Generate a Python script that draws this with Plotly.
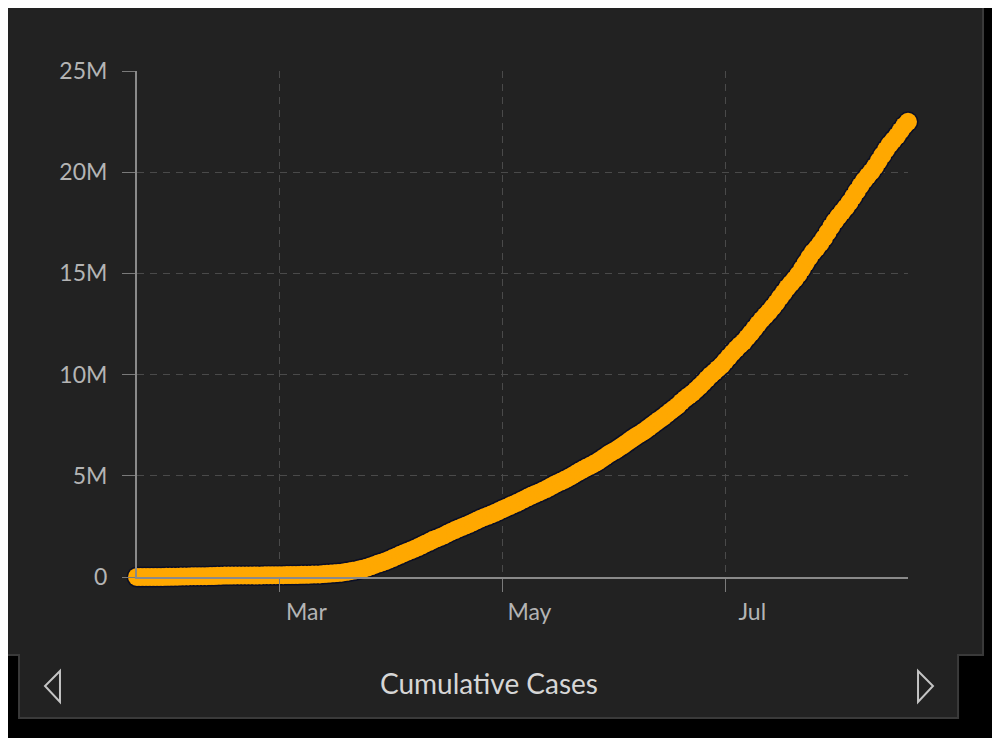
import pandas as pd
import plotly.graph_objects as go

# cumulative confirmed cases, worldwide, in millions (one value per day from 22 Jan 2020)
START_DATE = "2020-01-22"
CASES_M = [
    # Jan 22-31
    0.001, 0.001, 0.001, 0.001, 0.002, 0.003, 0.006, 0.006, 0.008, 0.010,
    # Feb
    0.012, 0.017, 0.020, 0.024, 0.028, 0.031, 0.034, 0.037, 0.040, 0.043,
    0.045, 0.045, 0.060, 0.067, 0.069, 0.071, 0.073, 0.075, 0.076, 0.076,
    0.077, 0.079, 0.079, 0.080, 0.080, 0.081, 0.083, 0.084, 0.086,
    # Mar
    0.088, 0.090, 0.093, 0.095, 0.098, 0.102, 0.106, 0.110, 0.114, 0.119,
    0.126, 0.128, 0.145, 0.156, 0.167, 0.182, 0.197, 0.215, 0.243, 0.272,
    0.305, 0.337, 0.378, 0.418, 0.468, 0.530, 0.593, 0.661, 0.720, 0.782,
    0.857,
    # Apr
    0.933, 1.013, 1.096, 1.176, 1.250, 1.321, 1.396, 1.480, 1.565, 1.658,
    1.736, 1.835, 1.905, 1.976, 2.056, 2.152, 2.240, 2.318, 2.401, 2.472,
    2.549, 2.624, 2.709, 2.796, 2.881, 2.955, 3.024, 3.097, 3.172, 3.257,
    # May
    3.344, 3.427, 3.507, 3.583, 3.663, 3.755, 3.846, 3.938, 4.024, 4.102,
    4.178, 4.262, 4.347, 4.442, 4.542, 4.634, 4.714, 4.802, 4.897, 4.996,
    5.102, 5.211, 5.310, 5.408, 5.495, 5.590, 5.692, 5.809, 5.930, 6.059,
    6.167,
    # Jun
    6.266, 6.386, 6.508, 6.633, 6.765, 6.891, 7.006, 7.114, 7.236, 7.372,
    7.508, 7.642, 7.771, 7.904, 8.045, 8.190, 8.330, 8.470, 8.648, 8.807,
    8.946, 9.084, 9.251, 9.420, 9.598, 9.787, 9.970, 10.129, 10.291, 10.456,
    # Jul
    10.667, 10.875, 11.079, 11.272, 11.455, 11.622, 11.833, 12.045, 12.273, 12.506,
    12.722, 12.915, 13.107, 13.329, 13.560, 13.813, 14.055, 14.292, 14.507, 14.714,
    14.947, 15.228, 15.510, 15.792, 16.047, 16.252, 16.480, 16.738, 17.026, 17.307,
    17.580,
    # Aug 1-20
    17.82, 18.04, 18.26, 18.51, 18.78, 19.06, 19.34, 19.60, 19.82, 20.03,
    20.28, 20.56, 20.84, 21.12, 21.37, 21.59, 21.80, 22.05, 22.30, 22.49,
]
dates = pd.date_range(START_DATE, periods=len(CASES_M), freq="D")

Y_TICKS = [0, 5, 10, 15, 20, 25]
Y_LABELS = ["0", "5M", "10M", "15M", "20M", "25M"]
X_TICKS = ["2020-03-01", "2020-05-01", "2020-07-01"]
X_LABELS = ["Mar", "May", "Jul"]
TITLE = "Cumulative Cases"

# the page puts the figure 8px in from the top-left corner
OFF = 8
W, H = 1000 - OFF, 738 - OFF
ML, MT = 137 - OFF, 71 - OFF
PW, PH = 771, 506
MR, MB = W - ML - PW, H - MT - PH

FONT = "Lato"
ORANGE = "#ffa800"
PANEL = "#222222"


# window pixel -> paper fraction
def px(x):
    return (x - OFF - ML) / PW


def py(y):
    return (MT + PH - (y - OFF)) / PH


def path(points):
    s = "M " + " L ".join("%.4f,%.4f" % (px(a), py(b)) for a, b in points)
    return s + " Z"


fig = go.Figure()
# dark rim under the thick marker band
fig.add_trace(go.Scatter(x=dates, y=CASES_M, mode="markers",
                         marker=dict(size=21, color="#0b0f26", line=dict(width=0)),
                         hoverinfo="skip", cliponaxis=False))
fig.add_trace(go.Scatter(x=dates, y=CASES_M, mode="markers",
                         marker=dict(size=18, color=ORANGE, line=dict(width=0)),
                         cliponaxis=False, name=TITLE))

panel = [(0, 0), (983, 0), (983, 655), (958, 655), (958, 718),
         (19, 718), (19, 655), (0, 655)]
shapes = [
    dict(type="path", xref="paper", yref="paper", path=path(panel),
         fillcolor=PANEL, line=dict(color="#3a3a3a", width=2), layer="below"),
    dict(type="path", xref="paper", yref="paper",
         path=path([(60, 671), (45, 686), (60, 702)]),
         line=dict(color="#c4c4c4", width=2)),
    dict(type="path", xref="paper", yref="paper",
         path=path([(918, 671), (933, 686), (918, 702)]),
         line=dict(color="#c4c4c4", width=2)),
]

fig.update_layout(
    width=W, height=H,
    margin=dict(l=ML, r=MR, t=MT, b=MB),
    paper_bgcolor="#000000",
    plot_bgcolor="rgba(0,0,0,0)",
    showlegend=False,
    font=dict(family=FONT, color="#b4b4b4", size=23),
    shapes=shapes,
    annotations=[dict(text=TITLE, xref="paper", yref="paper",
                      x=px(489), y=py(683), xanchor="center", yanchor="middle",
                      showarrow=False,
                      font=dict(family=FONT, size=28, color="#d6d6d6"))],
)
fig.update_xaxes(
    range=["2020-01-22", "2020-08-20"],
    tickvals=X_TICKS, ticktext=X_LABELS,
    ticks="outside", ticklen=13, tickcolor="#7a7a7a",
    ticklabelshift=27,
    showline=True, linecolor="#8a8a8a", linewidth=2,
    showgrid=True, gridcolor="#4a4a4a", griddash="7px,6px", gridwidth=1,
    zeroline=False,
)
fig.update_yaxes(
    range=[0, 25],
    tickvals=Y_TICKS, ticktext=Y_LABELS,
    ticks="outside", ticklen=13, tickcolor="#7a7a7a",
    ticklabelstandoff=10,
    showline=True, linecolor="#8a8a8a", linewidth=2,
    showgrid=True, gridcolor="#4a4a4a", griddash="7px,6px", gridwidth=1,
    zeroline=False,
)

fig.write_html("out.html")
